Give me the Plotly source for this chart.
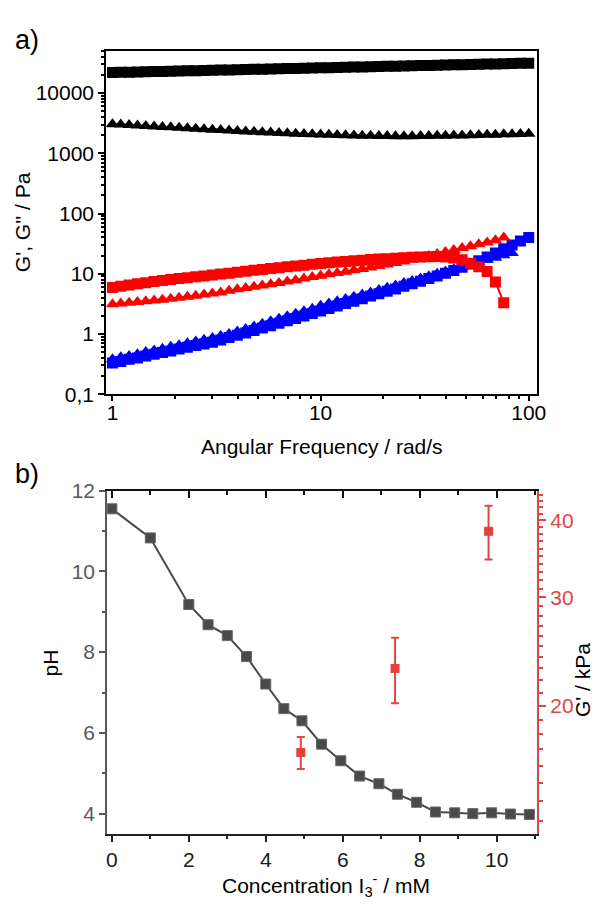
import plotly.graph_objects as go

# ---------------- data : panel a ----------------
freq = [1.000, 1.096, 1.202, 1.318, 1.445, 1.585, 1.738, 1.905, 2.089, 2.291,
        2.512, 2.754, 3.020, 3.311, 3.631, 3.981, 4.365, 4.786, 5.248, 5.754,
        6.310, 6.918, 7.586, 8.318, 9.120, 10.00, 10.96, 12.02, 13.18, 14.45,
        15.85, 17.38, 19.05, 20.89, 22.91, 25.12, 27.54, 30.20, 33.11, 36.31,
        39.81, 43.65, 47.86, 52.48, 57.54, 63.10, 69.18, 75.86, 83.18, 91.20,
        100.0]

g1_storage = [22000, 22160, 22320, 22480, 22630, 22790, 22960, 23120, 23290, 23460,
              23620, 23800, 23970, 24140, 24310, 24490, 24660, 24840, 25020, 25200,
              25380, 25560, 25740, 25930, 26110, 26300, 26490, 26680, 26870, 27060,
              27260, 27450, 27650, 27850, 28050, 28250, 28450, 28650, 28860, 29060,
              29270, 29480, 29690, 29910, 30120, 30340, 30550, 30770, 30990, 31220,
              31440]
g1_loss = [3050, 3000, 2950, 2900, 2850, 2800, 2750, 2700, 2650, 2600,
           2550, 2510, 2470, 2430, 2390, 2350, 2315, 2280, 2245, 2210,
           2180, 2150, 2125, 2100, 2075, 2050, 2030, 2010, 1990, 1975,
           1960, 1950, 1940, 1935, 1930, 1930, 1930, 1935, 1940, 1950,
           1960, 1970, 1985, 2000, 2015, 2030, 2045, 2065, 2080, 2100,
           2120]
g2_storage = [5.9, 6.2, 6.5, 6.8, 7.1, 7.4, 7.7, 8.0, 8.3, 8.6,
              8.9, 9.2, 9.5, 9.9, 10.2, 10.6, 11.0, 11.4, 11.8, 12.2,
              12.6, 13.1, 13.5, 13.9, 14.4, 14.8, 15.2, 15.6, 16.0, 16.4,
              16.8, 17.2, 17.5, 17.8, 18.1, 18.4, 18.7, 19.0, 19.2, 19.3,
              19.0, 18.3, 17.0, 15.0, 13.1, 10.9, 7.3, 3.3]
g2_loss = [3.1, 3.2, 3.3, 3.4, 3.5, 3.6, 3.7, 3.85, 4.0, 4.15,
           4.3, 4.5, 4.7, 4.9, 5.2, 5.5, 5.8, 6.1, 6.4, 6.7,
           7.0, 7.4, 7.8, 8.3, 8.8, 9.3, 9.8, 10.3, 10.8, 11.4,
           12.0, 12.7, 13.4, 14.2, 15.1, 16.0, 17.2, 18.5, 19.8, 21.3,
           23.0, 24.8, 26.7, 28.7, 30.8, 33.0, 36.0, 40.0]
g3_storage = [0.33, 0.35, 0.38, 0.40, 0.43, 0.46, 0.49, 0.52, 0.56, 0.60,
              0.64, 0.68, 0.73, 0.79, 0.87, 0.95, 1.04, 1.14, 1.25, 1.37,
              1.50, 1.65, 1.81, 1.99, 2.18, 2.40, 2.64, 2.90, 3.20, 3.50,
              3.85, 4.25, 4.65, 5.10, 5.60, 6.20, 6.80, 7.50, 8.30, 9.20,
              10.2, 11.3, 12.8, 14.5, 16.5, 19.0, 22.0, 26.0, 30.0, 35.0,
              40.0]
g3_loss = [0.38, 0.41, 0.43, 0.46, 0.50, 0.53, 0.57, 0.61, 0.65, 0.70,
           0.75, 0.80, 0.86, 0.92, 1.00, 1.10, 1.21, 1.33, 1.47, 1.62,
           1.78, 1.96, 2.16, 2.38, 2.62, 2.95, 3.20, 3.50, 3.80, 4.15,
           4.50, 4.90, 5.35, 5.85, 6.40, 7.00, 7.60, 8.30, 9.10, 10.0,
           10.9, 11.9, 13.0, 14.2, 15.5, 17.0, 18.5, 20.2, 22.0]

ya_tickvals = [0.1, 1, 10, 100, 1000, 10000]
ya_ticktext = ["0,1", "1", "10", "100", "1000", "10000"]
xa_tickvals = [1, 10, 100]
xa_ticktext = ["1", "10", "100"]

# ---------------- data : panel b ----------------
conc = [0, 1, 2, 2.5, 3, 3.5, 4, 4.47, 4.94, 5.45, 5.95, 6.44, 6.94, 7.42,
        7.92, 8.41, 8.91, 9.38, 9.87, 10.36, 10.85]
ph = [11.55, 10.83, 9.18, 8.68, 8.41, 7.89, 7.21, 6.60, 6.30, 5.72, 5.31,
      4.93, 4.74, 4.48, 4.28, 4.04, 4.02, 4.00, 4.02, 3.99, 3.98]

conc_g = [4.91, 7.36, 9.79]
g_kpa = [16.8, 23.0, 38.4]
g_kpa_err = [1.0, 2.8, 3.85]

yb_right_tickvals = [20, 30, 40]
yb_right_minor = [13, 14, 15, 16, 17, 18, 19, 21, 22, 23, 24, 25, 26, 27, 28, 29,
                  31, 32, 33, 34, 35, 36, 37, 38, 39, 41, 42, 43, 44]

FONT = "Liberation Sans, Arial, sans-serif"
W, H = 609, 915
FS = 21

def px(x):
    return x / W

def py(y):
    return 1 - y / H

fig = go.Figure()

def add_a(y, sym, color, size):
    fig.add_trace(go.Scatter(
        x=freq[:len(y)], y=y, mode="lines+markers", showlegend=False,
        marker=dict(symbol=sym, size=size, color=color, line=dict(width=0)),
        line=dict(color=color, width=2), xaxis="x", yaxis="y"))

BLUE = "#0000ff"
RED = "#ff0000"
BLACK = "#000000"
add_a(g3_loss, "triangle-up", BLUE, 12)
add_a(g3_storage, "square", BLUE, 11)
add_a(g2_storage, "square", RED, 11)
add_a(g2_loss, "triangle-up", RED, 12)
add_a(g1_storage, "square", BLACK, 11)
add_a(g1_loss, "triangle-up", BLACK, 12)

GRAY = "#4a4a4a"
fig.add_trace(go.Scatter(
    x=conc, y=ph, mode="lines+markers", showlegend=False,
    marker=dict(symbol="square", size=10, color=GRAY, line=dict(width=1, color="#666666")),
    line=dict(color=GRAY, width=2), xaxis="x2", yaxis="y2"))

RED_B = "#e8413c"
RED_AX = "#dc4848"
fig.add_trace(go.Scatter(
    x=conc_g, y=g_kpa, mode="markers", showlegend=False,
    marker=dict(symbol="square", size=9, color=RED_B),
    error_y=dict(type="data", array=g_kpa_err, color=RED_AX, thickness=2, width=4),
    xaxis="x3", yaxis="y3"))

minor_log_a = [v * m for v in [0.1, 1, 10, 100, 1000, 10000] for m in range(2, 10)]
minor_log_x = [v * m for v in [0.1, 1, 10, 100] for m in range(2, 10)]

tickfont = dict(family=FONT, size=FS, color="#000000")
xdom = [px(107), px(545)]
xdom_b = [px(108), px(545)]

fig.update_layout(
    width=W, height=H, margin=dict(l=0, r=0, t=0, b=0),
    paper_bgcolor="white", plot_bgcolor="white",
    font=dict(family=FONT, size=FS, color="#000"),
    xaxis=dict(type="log", domain=xdom, anchor="y", range=[-0.03, 2.04],
               tickvals=xa_tickvals, ticktext=xa_ticktext, ticks="outside", ticklen=5,
               tickwidth=2, tickcolor="#000", tickfont=tickfont, ticklabelstandoff=-6,
               minor=dict(tickmode="array", tickvals=minor_log_x, ticks="outside",
                          ticklen=3, tickwidth=2, tickcolor="#000"),
               showline=True, linecolor="#000", linewidth=2, mirror=True,
               showgrid=False, zeroline=False),
    yaxis=dict(type="log", domain=[py(392), py(40)], anchor="x", range=[-1, 4.70],
               tickvals=ya_tickvals, ticktext=ya_ticktext, ticks="outside", ticklen=6,
               tickwidth=2, tickcolor="#000", tickfont=tickfont,
               minor=dict(tickmode="array", tickvals=minor_log_a, ticks="outside",
                          ticklen=3, tickwidth=2, tickcolor="#000"),
               showline=True, linecolor="#000", linewidth=2, mirror=True,
               showgrid=False, zeroline=False),
    xaxis2=dict(domain=xdom_b, anchor="y2", range=[-0.12, 11.05],
                tick0=0, dtick=2, ticks="outside", ticklen=6, tickwidth=2,
                tickcolor="#222", tickfont=dict(family=FONT, size=FS, color="#1a1a1a"),
                minor=dict(dtick=1, ticks="outside", ticklen=3, tickwidth=2, tickcolor="#222"),
                showline=True, linecolor="#222", linewidth=2,
                showgrid=False, zeroline=False),
    xaxis3=dict(overlaying="x2", anchor="y2", side="top", range=[-0.12, 11.05],
                tick0=0, dtick=2, ticks="inside", ticklen=7, tickwidth=2,
                tickcolor="#111", showticklabels=False,
                minor=dict(dtick=1, ticks="inside", ticklen=4, tickwidth=2, tickcolor="#111"),
                showline=True, linecolor="#111", linewidth=2,
                showgrid=False, zeroline=False),
    yaxis2=dict(domain=[py(843), py(491)], anchor="x2", range=[3.5, 12],
                tick0=0, dtick=2, ticks="outside", ticklen=6, tickwidth=2,
                tickcolor="#595959", tickfont=dict(family=FONT, size=FS, color="#595959"),
                minor=dict(dtick=1, ticks="outside", ticklen=3, tickwidth=2, tickcolor="#595959"),
                showline=True, linecolor="#595959", linewidth=2,
                showgrid=False, zeroline=False),
    yaxis3=dict(type="log", overlaying="y2", anchor="x2", side="right",
                range=[1.0934, 1.6503],
                tickvals=yb_right_tickvals, ticks="outside", ticklen=7, tickwidth=2,
                tickcolor=RED_AX, tickfont=dict(family=FONT, size=FS, color=RED_AX),
                minor=dict(tickmode="array", tickvals=yb_right_minor, ticks="outside",
                           ticklen=4, tickwidth=2, tickcolor=RED_AX),
                showline=True, linecolor=RED_AX, linewidth=2,
                showgrid=False, zeroline=False),
)

ann = [
    dict(text="a)", x=px(12), y=py(29), xanchor="left", yanchor="middle", fs=27),
    dict(text="b)", x=px(12), y=py(474), xanchor="left", yanchor="middle", fs=27),
    dict(text="G', G'' / Pa", x=px(22), y=py(216), textangle=-90, xanchor="center",
         yanchor="middle", fs=FS),
    dict(text="Angular Frequency / rad/s", x=px(326), y=py(446), xanchor="center",
         yanchor="middle", fs=FS),
    dict(text="pH", x=px(50), y=py(668), textangle=-90, xanchor="center",
         yanchor="middle", fs=FS),
    dict(text="G' / kPa", x=px(592), y=py(685), textangle=-90, xanchor="center",
         yanchor="middle", fs=FS),
    dict(text="Concentration I<sub>3</sub><sup>-</sup> / mM", x=px(330), y=py(896),
         xanchor="center", yanchor="middle", fs=FS),
]
for a in ann:
    fs = a.pop("fs")
    a.update(xref="paper", yref="paper", showarrow=False,
             font=dict(family=FONT, color="#000", size=fs))
fig.update_layout(annotations=ann)

fig.write_html(
    "out.html",
    config={"displayModeBar": False},
    post_script="document.body.style.margin='0';document.body.style.padding='0';"
                "document.body.style.overflow='hidden';",
)
